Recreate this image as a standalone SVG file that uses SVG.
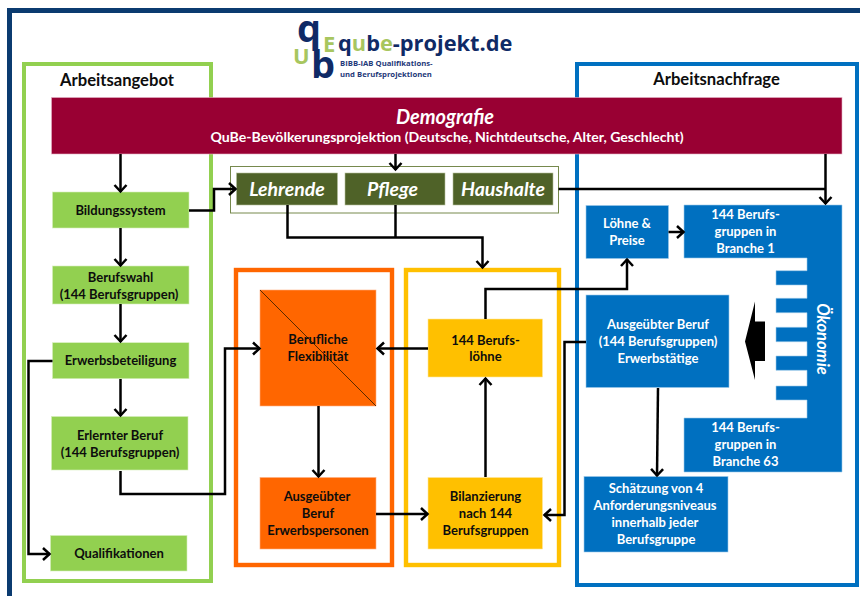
<svg xmlns="http://www.w3.org/2000/svg" width="860" height="596" viewBox="0 0 860 596">
<style>
text{font-family:"Lato","Carlito","Liberation Sans",sans-serif;font-weight:700;text-anchor:middle}
.d{fill:#0d0d0d;font-size:13px}
.w{fill:#fff;font-size:13px}
.h{fill:#0d0d0d;font-size:16.6px}
.o{fill:#fff;font-size:19.5px;font-style:italic}
.g{fill:#92d050;stroke:#d6efbb;stroke-width:.6}
.r{fill:#ff6600;stroke:#ffb080;stroke-width:.6}
.y{fill:#ffc000;stroke:#ffe69a;stroke-width:.6}
.b{fill:#0070c0;stroke:#9cc9ea;stroke-width:.6}
.v{fill:#4f6228;stroke:#b5c09a;stroke-width:.6}
.c path,.c line{fill:none;stroke:#000;stroke-width:2.5}
.lg{font-family:"Open Sans","Liberation Sans",sans-serif;text-anchor:start}
</style>
<defs>
<marker id="a" markerUnits="userSpaceOnUse" markerWidth="14" markerHeight="16" refX="11" refY="8" orient="auto">
<path d="M4 2L10.5 8L4 14" fill="none" stroke="#000" stroke-width="2.5"/>
</marker>
</defs>
<rect width="860" height="596" fill="#fff"/>
<path d="M9.5 596V10.5H860" fill="none" stroke="#0b3b70" stroke-width="5"/>
<g id="logo">
<text class="lg" x="297" y="42" font-size="38" fill="#0f2a66">q</text>
<text class="lg" x="311" y="78" font-size="38" fill="#0f2a66">b</text>
<text class="lg" x="293" y="64" font-size="22" fill="#a8c65f">U</text>
<text class="lg" x="323" y="52" font-size="22" fill="#a8c65f">E</text>
<text class="lg" x="338" y="51" font-size="21.8" fill="#0f2a66">q<tspan fill="#a8c65f">u</tspan>b<tspan fill="#a8c65f">e</tspan>-projekt.de</text>
<text class="lg" x="340" y="66" font-size="7.7" fill="#1f3a7a">BIBB-IAB Qualifikations-</text>
<text class="lg" x="340" y="77" font-size="7.7" fill="#1f3a7a">und Berufsprojektionen</text>
</g>
<g id="container-arbeitsangebot">
<rect x="24" y="64" width="187" height="517" fill="none" stroke="#92d050" stroke-width="4"/>
<text class="h" x="117" y="86">Arbeitsangebot</text>
</g>
<g id="container-arbeitsnachfrage">
<rect x="577" y="64" width="280" height="521" fill="none" stroke="#0070c0" stroke-width="4"/>
<text class="h" x="716.5" y="85">Arbeitsnachfrage</text>
</g>
<g id="container-flex"><rect x="236" y="270" width="156" height="295" fill="none" stroke="#ff6600" stroke-width="4.4"/></g>
<g id="container-lohn"><rect x="406" y="270" width="153" height="295" fill="none" stroke="#ffc000" stroke-width="4.4"/></g>
<g id="container-olive"><rect x="230.5" y="166.5" width="328" height="46.5" fill="#fff" stroke="#76894d" stroke-width="1"/></g>
<g id="demografie">
<rect x="51.5" y="97.5" width="790.5" height="56.5" fill="#990033" stroke="#e3b3c6" stroke-width=".6"/>
<text x="445" y="124" fill="#fff" font-size="20" font-style="italic">Demografie</text>
<text x="447" y="142" fill="#fff" font-size="14.1">QuBe-Bevölkerungsprojektion (Deutsche, Nichtdeutsche, Alter, Geschlecht)</text>
</g>
<g id="lehrende"><rect class="v" x="236.5" y="173" width="101" height="32"/><text class="o" x="287" y="196">Lehrende</text></g>
<g id="pflege"><rect class="v" x="345" y="173" width="100" height="32"/><text class="o" x="392.5" y="196">Pflege</text></g>
<g id="haushalte"><rect class="v" x="453" y="173" width="100" height="32"/><text class="o" x="503" y="196">Haushalte</text></g>
<g id="bildungssystem"><rect class="g" x="52.5" y="192" width="136.5" height="36"/><text class="d" x="120.5" y="215">Bildungssystem</text></g>
<g id="berufswahl"><rect class="g" x="52.5" y="266" width="136.5" height="38"/><text class="d" x="120.5" y="282">Berufswahl</text><text class="d" x="119" y="299">(144 Berufsgruppen)</text></g>
<g id="erwerbsbeteiligung"><rect class="g" x="52.5" y="342.7" width="136.5" height="36"/><text class="d" x="120.5" y="365">Erwerbsbeteiligung</text></g>
<g id="erlernter-beruf"><rect class="g" x="51.5" y="416.5" width="136.5" height="53.5"/><text class="d" x="120" y="440">Erlernter Beruf</text><text class="d" x="120" y="457">(144 Berufsgruppen)</text></g>
<g id="qualifikationen"><rect class="g" x="50.5" y="535.5" width="136.5" height="35.5"/><text class="d" x="119" y="558">Qualifikationen</text></g>
<g id="flexibilitaet"><rect class="r" x="260" y="290" width="116" height="116"/><line x1="260" y1="290" x2="376" y2="406" stroke="#5a2a00" stroke-width="1"/><text class="d" x="318" y="344">Berufliche</text><text class="d" x="318" y="361">Flexibilität</text></g>
<g id="erwerbspersonen"><rect class="r" x="260" y="477.5" width="116" height="71.5"/><text class="d" x="317" y="501">Ausgeübter</text><text class="d" x="318" y="518">Beruf</text><text class="d" x="318" y="535">Erwerbspersonen</text></g>
<g id="berufsloehne"><rect class="y" x="428" y="319" width="114.5" height="58"/><text class="d" x="485.5" y="345">144 Berufs-</text><text class="d" x="485.5" y="361">löhne</text></g>
<g id="bilanzierung"><rect class="y" x="428" y="477.5" width="114.5" height="71.5"/><text class="d" x="485.5" y="501">Bilanzierung</text><text class="d" x="485.5" y="518">nach 144</text><text class="d" x="485.5" y="535">Berufsgruppen</text></g>
<g id="loehne-preise"><rect class="b" x="586" y="205.5" width="82.5" height="53"/><text class="w" x="627" y="228">Löhne  &amp;</text><text class="w" x="627" y="245">Preise</text></g>
<g id="oekonomie">
<path class="b" d="M684 205H842V472H684V418H807V400H776V386H807V370.3H776V356H807V341.7H776V327.3H807V312.7H776V298.3H807V285H776V270.7H807V258H684Z"/>
<text class="w" x="745.5" y="219">144 Berufs-</text><text class="w" x="745.5" y="236">gruppen in</text><text class="w" x="745.5" y="253">Branche 1</text>
<text class="w" x="745.5" y="432">144 Berufs-</text><text class="w" x="745.5" y="449">gruppen in</text><text class="w" x="745.5" y="466">Branche 63</text>
<text class="w" transform="translate(817 339) rotate(90)" style="font-size:16.5px;font-style:italic">Ökonomie</text>
</g>
<g id="ausgeuebter-beruf"><rect class="b" x="586" y="295" width="143" height="92.5"/><text class="w" x="658" y="329">Ausgeübter Beruf</text><text class="w" x="658" y="346">(144 Berufsgruppen)</text><text class="w" x="658" y="363">Erwerbstätige</text></g>
<g id="schaetzung"><rect class="b" x="584" y="476.5" width="144" height="75.5"/><text class="w" x="656" y="493">Schätzung von 4</text><text class="w" x="655" y="510">Anforderungsniveaus</text><text class="w" x="655" y="527">innerhalb jeder</text><text class="w" x="656" y="544">Berufsgruppe</text></g>
<g id="connectors" class="c" marker-end="url(#a)">
<path d="M120.5 154V192"/>
<path d="M120.5 228V266"/>
<path d="M120.5 304V342"/>
<path d="M120.5 379V416"/>
<path d="M52.5 361H28.5V554H50"/>
<path d="M120.5 471V494H225V348.5H260"/>
<path d="M189 210.5H214V189H236"/>
<path d="M395.5 154V170"/>
<path d="M287.5 205V237.5H482.5V268"/>
<path d="M395.5 205V237.5" marker-end="none"/>
<path d="M558.5 189H825.5" marker-end="none"/>
<path d="M825.5 154V204"/>
<path d="M668.5 232H684"/>
<path d="M485.5 319V289H627V259"/>
<path d="M428 348.5H377"/>
<path d="M485.5 477V378"/>
<path d="M376 514H428"/>
<path d="M586 342H564.5V515H544"/>
<path d="M658 388L657 476"/>
<path d="M318.5 406V477"/>
</g>
<path id="big-arrow" d="M745 341.5L755 301.5V321.5H765V361H755V380Z" fill="#000"/>
</svg>
